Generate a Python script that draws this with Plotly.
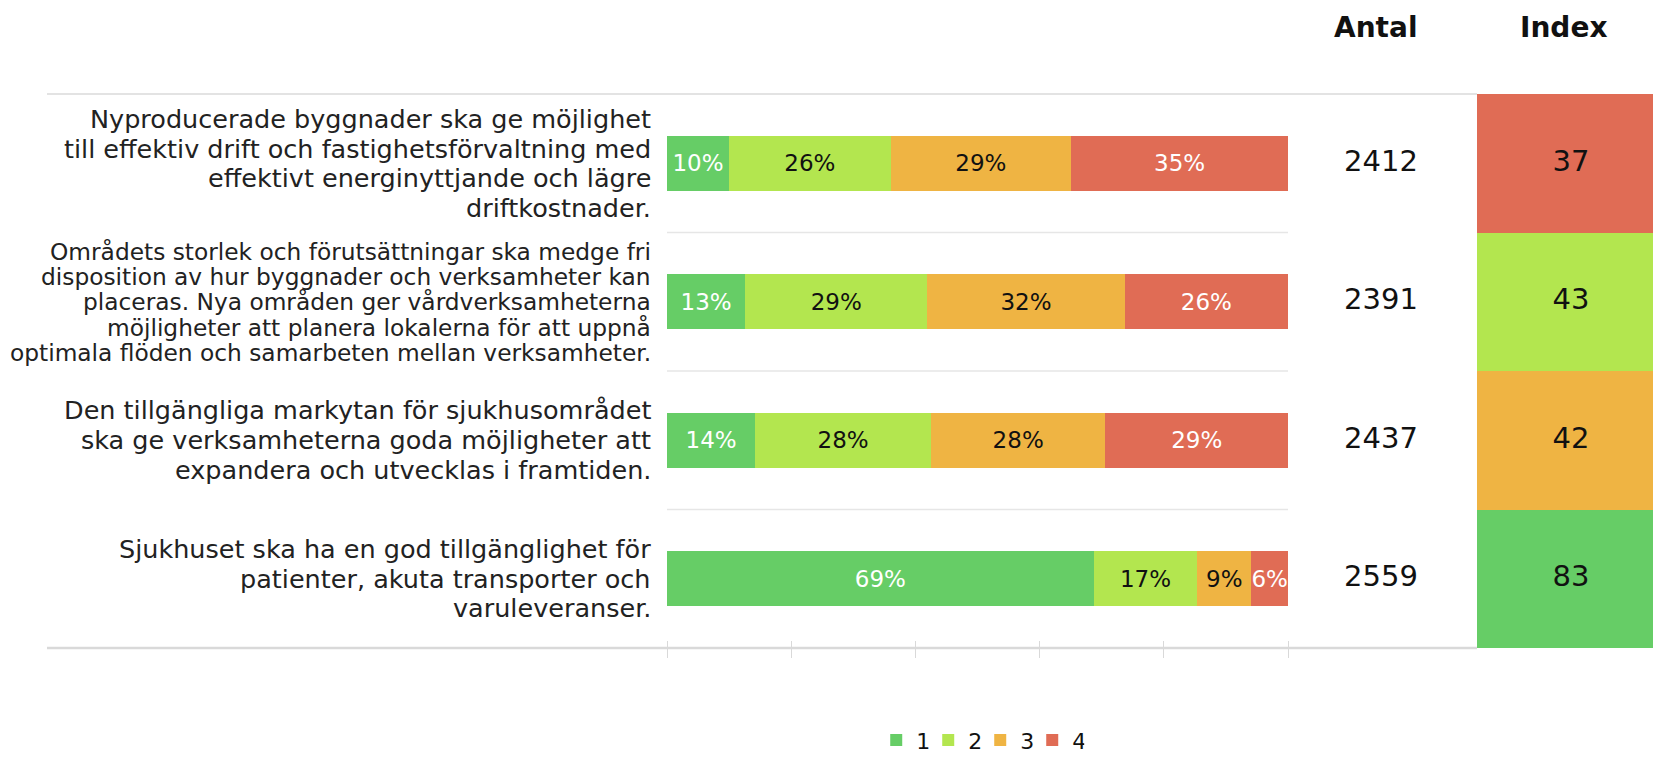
import plotly.graph_objects as go

# ---------------- data ----------------
statements = [
    "Nyproducerade byggnader ska ge möjlighet<br>till effektiv drift och fastighetsförvaltning med<br>effektivt energinyttjande och lägre<br>driftkostnader.",
    "Områdets storlek och förutsättningar ska medge fri<br>disposition av hur byggnader och verksamheter kan<br>placeras. Nya områden ger vårdverksamheterna<br>möjligheter att planera lokalerna för att uppnå<br>optimala flöden och samarbeten mellan verksamheter.",
    "Den tillgängliga markytan för sjukhusområdet<br>ska ge verksamheterna goda möjligheter att<br>expandera och utvecklas i framtiden.",
    "Sjukhuset ska ha en god tillgänglighet för<br>patienter, akuta transporter och<br>varuleveranser.",
]
series_names = ["1", "2", "3", "4"]
share_1 = [10.0, 12.6, 14.2, 68.7]
share_2 = [26.0, 29.3, 28.3, 16.7]
share_3 = [29.1, 31.8, 28.1, 8.7]
share_4 = [34.9, 26.3, 29.4, 5.9]
antal = [2412, 2391, 2437, 2559]
index_values = [37, 43, 42, 83]
index_colors = ["#E06C55", "#B3E64F", "#EFB443", "#66CD66"]
axis_ticks = [0, 20, 40, 60, 80, 100]

# ---------------- style ----------------
W, H = 1653, 760
FONT = "DejaVu Sans"
series_colors = ["#66CD66", "#B3E64F", "#EFB443", "#E06C55"]
text_colors = ["white", "#111111", "#111111", "white"]
label_sizes = [25.5, 23.3, 25.5, 25.5]
line_steps = [29.5, 25.3, 30.0, 29.5]

rows = list(range(len(statements)))
x0_px, x1_px = 667, 1288
t_px, b_px = 94, 648

fig = go.Figure()
for name, vals, col, tcol in zip(series_names, [share_1, share_2, share_3, share_4],
                                 series_colors, text_colors):
    fig.add_trace(go.Bar(
        y=rows, x=vals, name=name, orientation="h",
        marker=dict(color=col, line=dict(width=0)),
        text=[f"{v:.0f}%" for v in vals], textposition="inside",
        insidetextanchor="middle", textangle=0, constraintext="none",
        insidetextfont=dict(family=FONT, size=23, color=tcol),
        hoverinfo="skip", xaxis="x", yaxis="y",
    ))

# index column (second x axis, pixel-like units)
x2_span = W - x1_px
idx_base = 1477 - x1_px
fig.add_trace(go.Bar(
    y=rows, x=[W - 1477] * len(rows), base=[idx_base] * len(rows), width=1,
    orientation="h", marker=dict(color=index_colors, line=dict(width=0)),
    showlegend=False, hoverinfo="skip", xaxis="x2", yaxis="y",
))
fig.add_trace(go.Scatter(
    y=rows, x=[1571 - x1_px] * len(rows), mode="text",
    text=[str(v) for v in index_values], textposition="middle center",
    textfont=dict(family=FONT, size=29, color="#111111"),
    showlegend=False, hoverinfo="skip", xaxis="x2", yaxis="y",
))
# antal column
fig.add_trace(go.Scatter(
    y=rows, x=[1381 - x1_px] * len(rows), mode="text",
    text=[str(v) for v in antal], textposition="middle center",
    textfont=dict(family=FONT, size=29, color="#111111"),
    showlegend=False, hoverinfo="skip", xaxis="x2", yaxis="y",
))

annotations = []
for i, (s, fs, step) in enumerate(zip(statements, label_sizes, line_steps)):
    lines = s.split("<br>")
    n = len(lines)
    for k, ln in enumerate(lines):
        annotations.append(dict(
            x=653 / W, xref="paper", y=i, yref="y", text=ln, showarrow=False,
            xanchor="right", yanchor="middle", align="right",
            yshift=-(k - (n - 1) / 2) * step,
            font=dict(family=FONT, size=fs, color="#222222"),
        ))
for txt, cx in [("Antal", 1375), ("Index", 1563)]:
    annotations.append(dict(
        x=cx / W, xref="paper", y=(b_px - 27) / (b_px - t_px), yref="paper",
        text=f"<b>{txt}</b>", showarrow=False, xanchor="center", yanchor="middle",
        font=dict(family=FONT, size=28, color="#111111"),
    ))

shapes = []
for yv in [0.5, 1.5, 2.5]:
    shapes.append(dict(type="line", xref="x", yref="y", x0=0, x1=100, y0=yv, y1=yv,
                       line=dict(color="#E6E6E6", width=1.5), layer="below"))
shapes.append(dict(type="line", xref="paper", yref="paper", x0=47 / W, x1=1477 / W,
                   y0=1, y1=1, line=dict(color="#E3E3E3", width=2)))
shapes.append(dict(type="line", xref="paper", yref="paper", x0=47 / W, x1=1477 / W,
                   y0=0, y1=0, line=dict(color="#D9D9D9", width=2.5)))

fig.update_layout(
    width=W, height=H,
    margin=dict(l=0, r=0, t=t_px, b=H - b_px, autoexpand=False),
    paper_bgcolor="white", plot_bgcolor="white",
    barmode="stack", bargap=0.6,
    font=dict(family=FONT, color="#111111"),
    xaxis=dict(domain=[x0_px / W, x1_px / W], range=[0, 100], tickvals=axis_ticks,
               anchor="free", position=8 / (b_px - t_px),
               ticks="outside", showticklabels=False, ticklen=17, tickwidth=1,
               tickcolor="#D9D9D9", showgrid=False, zeroline=False, showline=False,
               fixedrange=True),
    xaxis2=dict(domain=[x1_px / W, 1], range=[0, x2_span], visible=False,
                anchor="y", fixedrange=True),
    yaxis=dict(range=[3.5, -0.5], visible=False, fixedrange=True),
    legend=dict(orientation="h", x=0.593, xanchor="center",
                yref="container", y=0.026, yanchor="middle",
                font=dict(family=FONT, size=22, color="#111111"),
                entrywidth=7, entrywidthmode="pixels", itemwidth=30,
                traceorder="normal"),
    annotations=annotations, shapes=shapes,
)

fig.write_html("out.html", config={"displayModeBar": False},
               post_script="document.body.style.margin='0';")
